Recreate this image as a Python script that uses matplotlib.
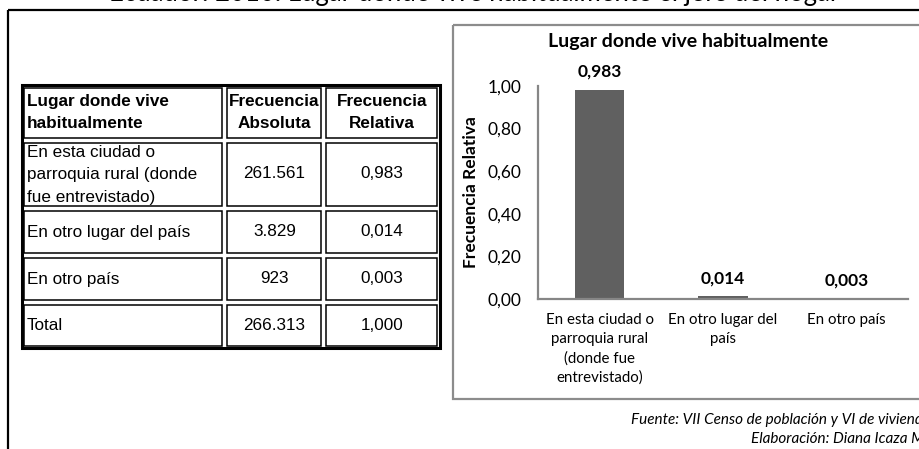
import matplotlib
matplotlib.use("Agg")
import matplotlib.pyplot as plt
from matplotlib.patches import Rectangle

# ---- data ----
lugares = ["En esta ciudad o\nparroquia rural (donde\nfue entrevistado)",
           "En otro lugar del país",
           "En otro país",
           "Total"]
frec_absoluta = ["261.561", "3.829", "923", "266.313"]
frec_relativa = [0.983, 0.014, 0.003, 1.000]

categorias = ["En esta ciudad o\nparroquia rural\n(donde fue\nentrevistado)",
              "En otro lugar del\npaís",
              "En otro país"]
valores = frec_relativa[:3]
yticks = [0.0, 0.2, 0.4, 0.6, 0.8, 1.0]

W, H = 920, 449
fig = plt.figure(figsize=(W / 100, H / 100), dpi=100)

# overlay in pixel coordinates (y downwards)
bg = fig.add_axes([0, 0, 1, 1])
bg.set_xlim(0, W)
bg.set_ylim(H, 0)
bg.axis("off")

sans = "Lato"
table_font = "Liberation Sans"


def fmt(v, n=3):
    return f"{v:.{n}f}".replace(".", ",")


# clipped page title and outer frame
bg.text(474, 0.5, "Ecuador: 2010: Lugar donde vive habitualmente el jefe del hogar",
        ha="center", va="baseline", fontsize=18.5, family=sans, color="black")
bg.plot([8, W + 5], [10, 10], color="black", lw=1.6, solid_capstyle="butt")
bg.plot([8, 8], [10, H + 5], color="black", lw=1.6, solid_capstyle="butt")

# ---- table ----
col_x = [22, 225, 324, 440]
row_y = [85, 140, 208, 255, 302, 348]
bg.add_patch(Rectangle((col_x[0], row_y[0]), col_x[-1] - col_x[0], row_y[-1] - row_y[0],
                       fill=False, ec="black", lw=2.2))
for r in range(len(row_y) - 1):
    for c in range(len(col_x) - 1):
        x0, x1 = col_x[c] + 2.5, col_x[c + 1] - 2.5
        y0, y1 = row_y[r] + 2.5, row_y[r + 1] - 2.5
        bg.add_patch(Rectangle((x0, y0), x1 - x0, y1 - y0, fill=False, ec="black", lw=1.1))

tfs = 12.3
tls = 1.62
headers = ["Lugar donde vive\nhabitualmente", "Frecuencia\nAbsoluta", "Frecuencia\nRelativa"]
hy = (row_y[0] + row_y[1]) / 2
bg.text(col_x[0] + 5, hy, headers[0], ha="left", va="center", fontsize=tfs,
        fontweight="bold", family=table_font, linespacing=tls)
for c in (1, 2):
    bg.text((col_x[c] + col_x[c + 1]) / 2, hy, headers[c], ha="center", va="center",
            fontsize=tfs, fontweight="bold", family=table_font, linespacing=tls)

for i, lugar in enumerate(lugares):
    cy = (row_y[i + 1] + row_y[i + 2]) / 2
    bg.text(col_x[0] + 5, cy + 1, lugar, ha="left", va="center", fontsize=tfs,
            family=table_font, linespacing=tls)
    bg.text((col_x[1] + col_x[2]) / 2, cy, frec_absoluta[i], ha="center", va="center",
            fontsize=tfs, family=table_font)
    bg.text((col_x[2] + col_x[3]) / 2, cy, fmt(frec_relativa[i]), ha="center",
            va="center", fontsize=tfs, family=table_font)

# chart frame
bg.add_patch(Rectangle((453, 25), W + 20 - 453, 399 - 25, fill=False, ec="#8c8c8c", lw=1.6))
bg.text(688, 42, "Lugar donde vive habitualmente", ha="center", va="center",
        fontsize=14, fontweight="bold", family=sans)

# footer
bg.text(931, 420, "Fuente: VII Censo de población y VI de vivienda", ha="right",
        va="center", fontsize=11, style="italic", family=sans)
bg.text(928, 439, "Elaboración: Diana Icaza M.", ha="right", va="center",
        fontsize=11, style="italic", family=sans)

# ---- bar chart ----
ax = fig.add_axes([538 / W, (H - 299) / H, 370 / W, 213 / H])
x = range(len(categorias))
bars = ax.bar(x, valores, width=0.4, color="#606060")
ax.set_xlim(-0.5, len(categorias) - 0.5)
ax.set_ylim(0, 1.0)
ax.set_yticks(yticks)
ax.set_yticklabels([fmt(t, 2) for t in yticks], family=sans, fontsize=12.5)
ax.set_xticks(list(x))
ax.set_xticklabels(categorias, family=sans, fontsize=10.8, linespacing=1.45, va="top")
ax.tick_params(length=0)
ax.tick_params(axis="y", pad=12)
ax.tick_params(axis="x", pad=10)
for s in ("top", "right"):
    ax.spines[s].set_visible(False)
for s in ("left", "bottom"):
    ax.spines[s].set_color("#868686")
    ax.spines[s].set_linewidth(1.6)
ax.set_ylabel("Frecuencia Relativa", family=sans, fontsize=12.5, fontweight="bold",
              labelpad=6)
for b, v in zip(bars, valores):
    ax.annotate(fmt(v), (b.get_x() + b.get_width() / 2, v), xytext=(0, 7),
                textcoords="offset points", ha="center", va="bottom",
                fontsize=12.5, fontweight="bold", family=sans)

fig.savefig("out.png", dpi=100)
